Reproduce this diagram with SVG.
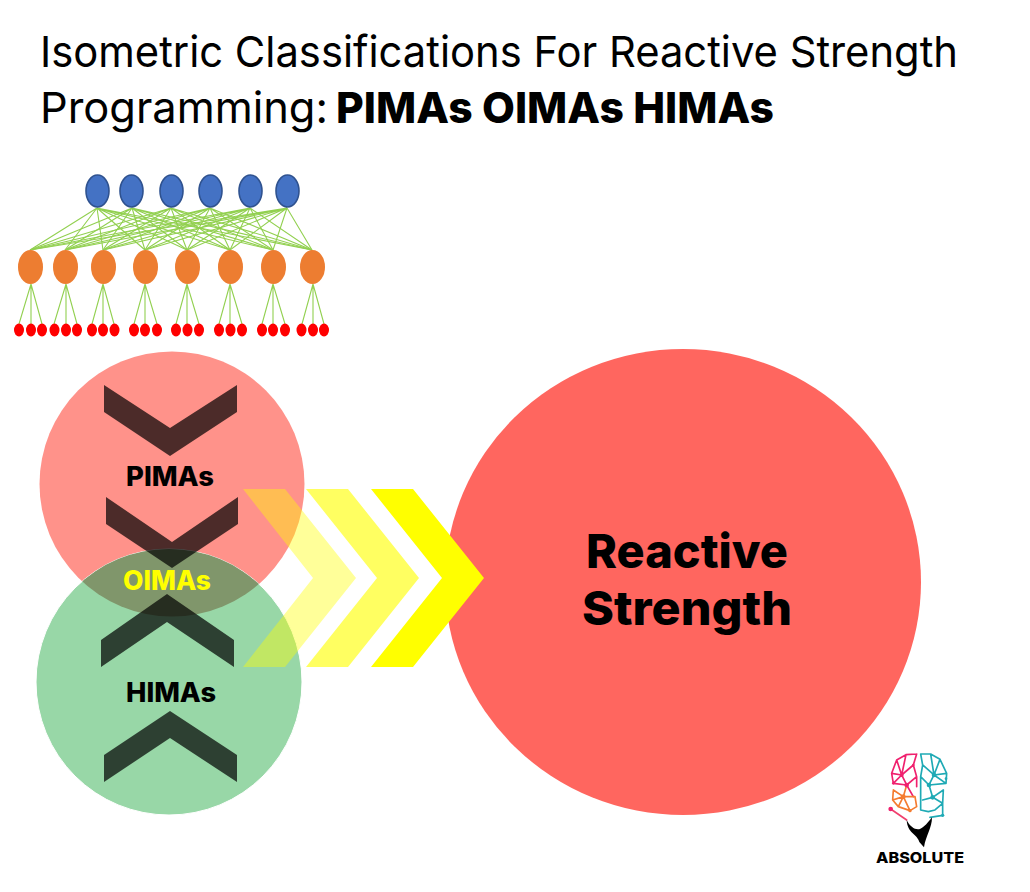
<svg xmlns="http://www.w3.org/2000/svg" width="1030" height="892" viewBox="0 0 1030 892">
<style>
.t{font-family:"Inter","DejaVu Sans",sans-serif;font-size:43px;fill:#000}
.b{font-weight:800}
.l{font-family:"Inter","Liberation Sans",sans-serif;font-weight:800;text-anchor:middle}
.blue{fill:#4472C4;stroke:#2F528F;stroke-width:1.6}
.or{fill:#ED7D31}
.rd{fill:#FF0000}
.c{stroke:#92D050;stroke-width:1.1;fill:none}
.dk{fill:#000;fill-opacity:.7}
</style>
<defs>
<clipPath id="pc"><circle cx="172" cy="484" r="132.5"/></clipPath>
</defs>
<rect width="1030" height="892" fill="#fff"/>
<g id="title">
<text class="t" x="40" y="67" textLength="918" lengthAdjust="spacingAndGlyphs">Isometric Classifications For Reactive Strength</text>
<text class="t" x="40" y="123" textLength="288" lengthAdjust="spacingAndGlyphs">Programming:</text>
<text class="t b" x="336" y="123" textLength="438" lengthAdjust="spacingAndGlyphs">PIMAs OIMAs HIMAs</text>
</g>
<g id="connectors">
<g class="c">
<path d="M97 208L30 250M97 208L65 250M97 208L103 250M97 208L145 250M97 208L187 250M97 208L230 250M97 208L273 250M97 208L312 250"/>
<path d="M132 208L30 250M132 208L65 250M132 208L103 250M132 208L145 250M132 208L187 250M132 208L230 250M132 208L273 250M132 208L312 250"/>
<path d="M171 208L30 250M171 208L65 250M171 208L103 250M171 208L145 250M171 208L187 250M171 208L230 250M171 208L273 250M171 208L312 250"/>
<path d="M210 208L30 250M210 208L65 250M210 208L103 250M210 208L145 250M210 208L187 250M210 208L230 250M210 208L273 250M210 208L312 250"/>
<path d="M250 208L30 250M250 208L65 250M250 208L103 250M250 208L145 250M250 208L187 250M250 208L230 250M250 208L273 250M250 208L312 250"/>
<path d="M287 208L30 250M287 208L65 250M287 208L103 250M287 208L145 250M287 208L187 250M287 208L230 250M287 208L273 250M287 208L312 250"/>
<path d="M31 284L19 324M31 284V324M31 284L42 324"/>
<path d="M66 284L54 324M66 284V324M66 284L77 324"/>
<path d="M103 284L92 324M103 284V324M103 284L114 324"/>
<path d="M145 284L134 324M145 284V324M145 284L157 324"/>
<path d="M187 284L176 324M187 284V324M187 284L199 324"/>
<path d="M230 284L219 324M230 284V324M230 284L242 324"/>
<path d="M273 284L262 324M273 284V324M273 284L285 324"/>
<path d="M313 284L302 324M313 284V324M313 284L324 324"/>
</g>
</g>
<g id="blue-nodes" class="blue">
<ellipse cx="97.500" cy="191" rx="11.500" ry="16"/><ellipse cx="131.500" cy="191" rx="11.500" ry="16"/><ellipse cx="171.500" cy="191" rx="11.500" ry="16"/><ellipse cx="210.500" cy="191" rx="11.500" ry="16"/><ellipse cx="250.500" cy="191" rx="11.500" ry="16"/><ellipse cx="287.500" cy="191" rx="11.500" ry="16"/>
</g>
<g id="orange-nodes" class="or">
<ellipse cx="30.500" cy="267" rx="12.500" ry="17"/><ellipse cx="65.500" cy="267" rx="12.500" ry="17"/><ellipse cx="103.500" cy="267" rx="12.500" ry="17"/><ellipse cx="145.500" cy="267" rx="12.500" ry="17"/><ellipse cx="187.500" cy="267" rx="12.500" ry="17"/><ellipse cx="230.500" cy="267" rx="12.500" ry="17"/><ellipse cx="273.500" cy="267" rx="12.500" ry="17"/><ellipse cx="312.500" cy="267" rx="12.500" ry="17"/>
</g>
<g id="red-nodes" class="rd">
<ellipse cx="19" cy="330" rx="5" ry="6.500"/><ellipse cx="31" cy="330" rx="5" ry="6.500"/><ellipse cx="42" cy="330" rx="5" ry="6.500"/>
<ellipse cx="54.500" cy="330" rx="5" ry="6.500"/><ellipse cx="66" cy="330" rx="5" ry="6.500"/><ellipse cx="77" cy="330" rx="5" ry="6.500"/>
<ellipse cx="92" cy="330" rx="5" ry="6.500"/><ellipse cx="103" cy="330" rx="5" ry="6.500"/><ellipse cx="114.500" cy="330" rx="5" ry="6.500"/>
<ellipse cx="134" cy="330" rx="5" ry="6.500"/><ellipse cx="145" cy="330" rx="5" ry="6.500"/><ellipse cx="157" cy="330" rx="5" ry="6.500"/>
<ellipse cx="176" cy="330" rx="5" ry="6.500"/><ellipse cx="187.500" cy="330" rx="5" ry="6.500"/><ellipse cx="199" cy="330" rx="5" ry="6.500"/>
<ellipse cx="219" cy="330" rx="5" ry="6.500"/><ellipse cx="230.500" cy="330" rx="5" ry="6.500"/><ellipse cx="242" cy="330" rx="5" ry="6.500"/>
<ellipse cx="262" cy="330" rx="5" ry="6.500"/><ellipse cx="273" cy="330" rx="5" ry="6.500"/><ellipse cx="285" cy="330" rx="5" ry="6.500"/>
<ellipse cx="301.500" cy="330" rx="5" ry="6.500"/><ellipse cx="313" cy="330" rx="5" ry="6.500"/><ellipse cx="324" cy="330" rx="5" ry="6.500"/>
</g>
<g id="reactive-strength">
<ellipse cx="683" cy="582" rx="238" ry="233" fill="#FF665F"/>
</g>
<g id="pimas-circle"><circle cx="172" cy="484" r="132.500" fill="#FF928A"/></g>
<g id="himas-circle"><circle cx="169" cy="682" r="133" fill="#98D7A7" stroke="#fff" stroke-width="1"/></g>
<g id="oimas-overlap"><circle cx="169" cy="682" r="133" fill="#80966B" clip-path="url(#pc)"/></g>
<g id="dark-chevrons" class="dk">
<polygon points="104,385 170,428 237,385 237,412 170,456 104,412"/>
<polygon points="106,497 172,542 238,497 238,524 172,568 106,524"/>
<polygon points="101,640 167,594 234,640 234,667 167,622 101,667"/>
<polygon points="104,755 170,711 237,755 237,782 170,738 104,782"/>
</g>
<g id="yellow-chevrons" fill="#FFFF00">
<polygon fill-opacity=".4" points="243,489 285,489 356,578 285,667 243,667 313,578"/>
<polygon fill-opacity=".62" points="306,489 348,489 419,578 348,667 306,667 377,578"/>
<polygon points="371,489 413,489 484,578 413,667 371,667 442,578"/>
</g>
<g id="labels">
<text class="l" x="170" y="486" font-size="27" textLength="88" lengthAdjust="spacingAndGlyphs">PIMAs</text>
<text class="l" x="167" y="590" font-size="27" fill="#FFFF00" textLength="88" lengthAdjust="spacingAndGlyphs">OIMAs</text>
<text class="l" x="171" y="702" font-size="27" textLength="90" lengthAdjust="spacingAndGlyphs">HIMAs</text>
<text class="l" x="687" y="568" font-size="47" textLength="202" lengthAdjust="spacingAndGlyphs">Reactive</text>
<text class="l" x="687" y="625" font-size="47" textLength="210" lengthAdjust="spacingAndGlyphs">Strength</text>
</g>
<g id="logo">
<g transform="translate(860 740) scale(.3333)" fill="none" stroke-width="5" stroke-linejoin="round" stroke-linecap="round">
<g stroke="#F0206E">
<path d="M170 42L138 44L110 60L95 100L100 130L125 105L140 135L100 130M138 44L125 105L160 75L170 42M110 60L125 105M95 100L125 105M160 75L170 110L140 135L160 170M170 110V140"/>
</g>
<g stroke="#F47C30">
<path d="M100 150L98 180L115 200L150 212L170 200L165 170L130 170L100 150M130 170L115 200M130 170L150 212M130 170L98 180M140 135L130 170"/>
<path d="M92 207L140 240" stroke="#F0406E"/>
</g>
<g stroke="#1FAAB5">
<path d="M182 42L212 42L240 58L260 100L258 130L222 105L207 135L258 130M212 42L222 105L188 75L182 42M240 58L222 105M260 100L222 105M188 75L182 110L207 135L218 172M182 110V210L205 215M250 150L248 190L225 210L205 215M218 172L250 150M218 172L248 190M218 172L188 180M248 190V226L210 232"/>
</g>
<g fill="#F0206E" stroke="none"><circle cx="125" cy="105" r="6"/><circle cx="140" cy="135" r="7"/><circle cx="92" cy="207" r="7"/><circle cx="160" cy="75" r="4"/><circle cx="100" cy="130" r="4"/></g>
<g fill="#F47C30" stroke="none"><circle cx="130" cy="170" r="7"/><circle cx="150" cy="212" r="5"/></g>
<g fill="#1FAAB5" stroke="none"><circle cx="222" cy="105" r="7"/><circle cx="207" cy="135" r="7"/><circle cx="218" cy="172" r="7"/><circle cx="248" cy="226" r="5"/><circle cx="258" cy="116" r="4"/></g>
<path d="M140 240C150 262 170 272 181 266C192 262 204 248 216 232C216 265 198 285 192 322L178 306C172 282 142 280 140 240Z" fill="#000"/>
</g>
<text class="l" x="920" y="863" font-size="15" textLength="88" lengthAdjust="spacingAndGlyphs">ABSOLUTE</text>
</g>
</svg>
